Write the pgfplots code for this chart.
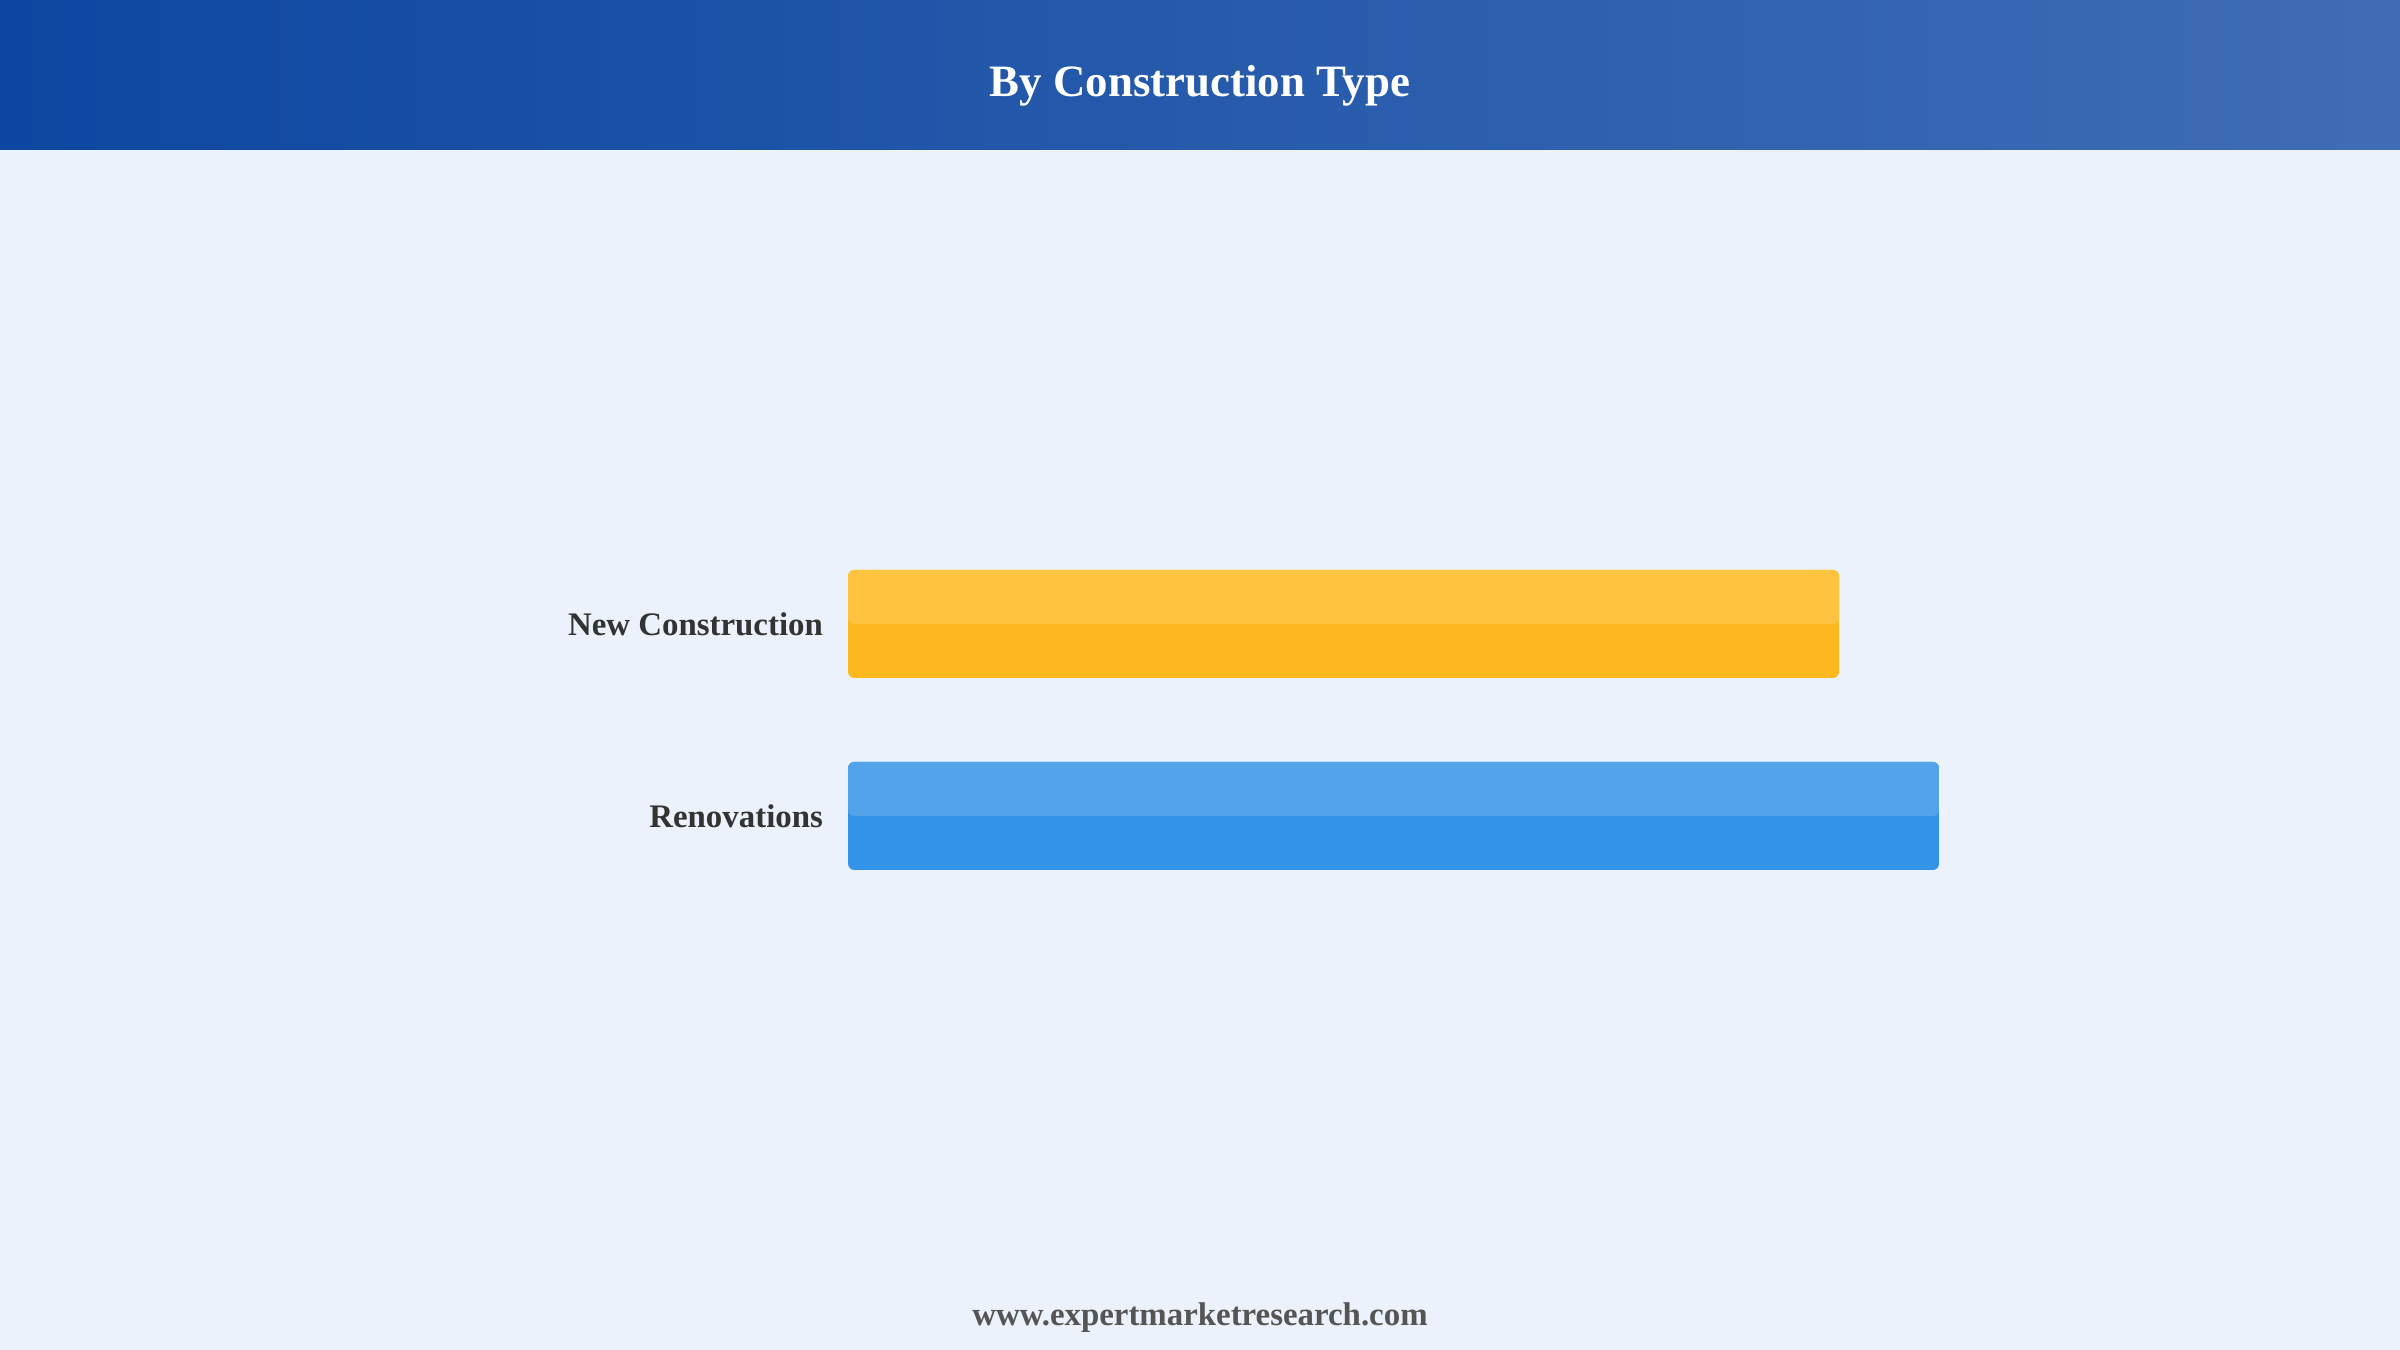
\documentclass[border=0pt]{standalone}
\usepackage{pgfplots}
\pgfplotsset{compat=1.18}
\usepackage{fontspec}
\setmainfont{Liberation Serif}

\definecolor{bg}{HTML}{EBF2FB}
\definecolor{hdrL}{HTML}{0D47A1}
\definecolor{hdrR}{HTML}{3F6DB5}
\definecolor{ncTop}{HTML}{FEC33F}
\definecolor{ncBot}{HTML}{FDB81D}
\definecolor{rnTop}{HTML}{52A3E9}
\definecolor{rnBot}{HTML}{3393E6}
\definecolor{lbl}{HTML}{333333}
\definecolor{foot}{HTML}{555555}

\begin{document}
\begin{tikzpicture}[x=1bp,y=1bp]
  % page background and header band
  \fill[bg] (0,0) rectangle (800,450);
  \shade[left color=hdrL, right color=hdrR] (0,400) rectangle (800,450);
  \node[anchor=base, text=white, inner sep=0pt,
        font=\bfseries\fontsize{15}{17}\selectfont] at (400,417.8) {By Construction Type};

  \begin{axis}[
    at={(282.7bp,146bp)}, anchor=south west,
    scale only axis, width=363.6bp, height=128bp,
    xmin=0, xmax=52.4, ymin=-0.5, ymax=1.5,
    axis line style={draw=none},
    xtick=\empty,
    ytick={0,1},
    yticklabels={Renovations,New Construction},
    major tick length=0pt,
    yticklabel style={anchor=east, inner sep=0pt, xshift=-8.2bp, text=lbl,
                      font=\bfseries\fontsize{11}{13}\selectfont},
    clip=false,
  ]
    % full bars
    \addplot[xbar, bar width=36bp, bar shift=0pt, fill=ncBot, draw=none, rounded corners=2bp]
      coordinates {(47.6,1)};
    \addplot[xbar, bar width=36bp, bar shift=0pt, fill=rnBot, draw=none, rounded corners=2bp]
      coordinates {(52.4,0)};
    % lighter upper halves
    \addplot[xbar, bar width=18bp, bar shift=9bp, fill=ncTop, draw=none, rounded corners=2bp]
      coordinates {(47.6,1)};
    \addplot[xbar, bar width=18bp, bar shift=9bp, fill=rnTop, draw=none, rounded corners=2bp]
      coordinates {(52.4,0)};
  \end{axis}

  \node[anchor=base, text=foot, inner sep=0pt,
        font=\bfseries\fontsize{11}{13}\selectfont] at (400,8) {www.expertmarketresearch.com};
\end{tikzpicture}
\end{document}
